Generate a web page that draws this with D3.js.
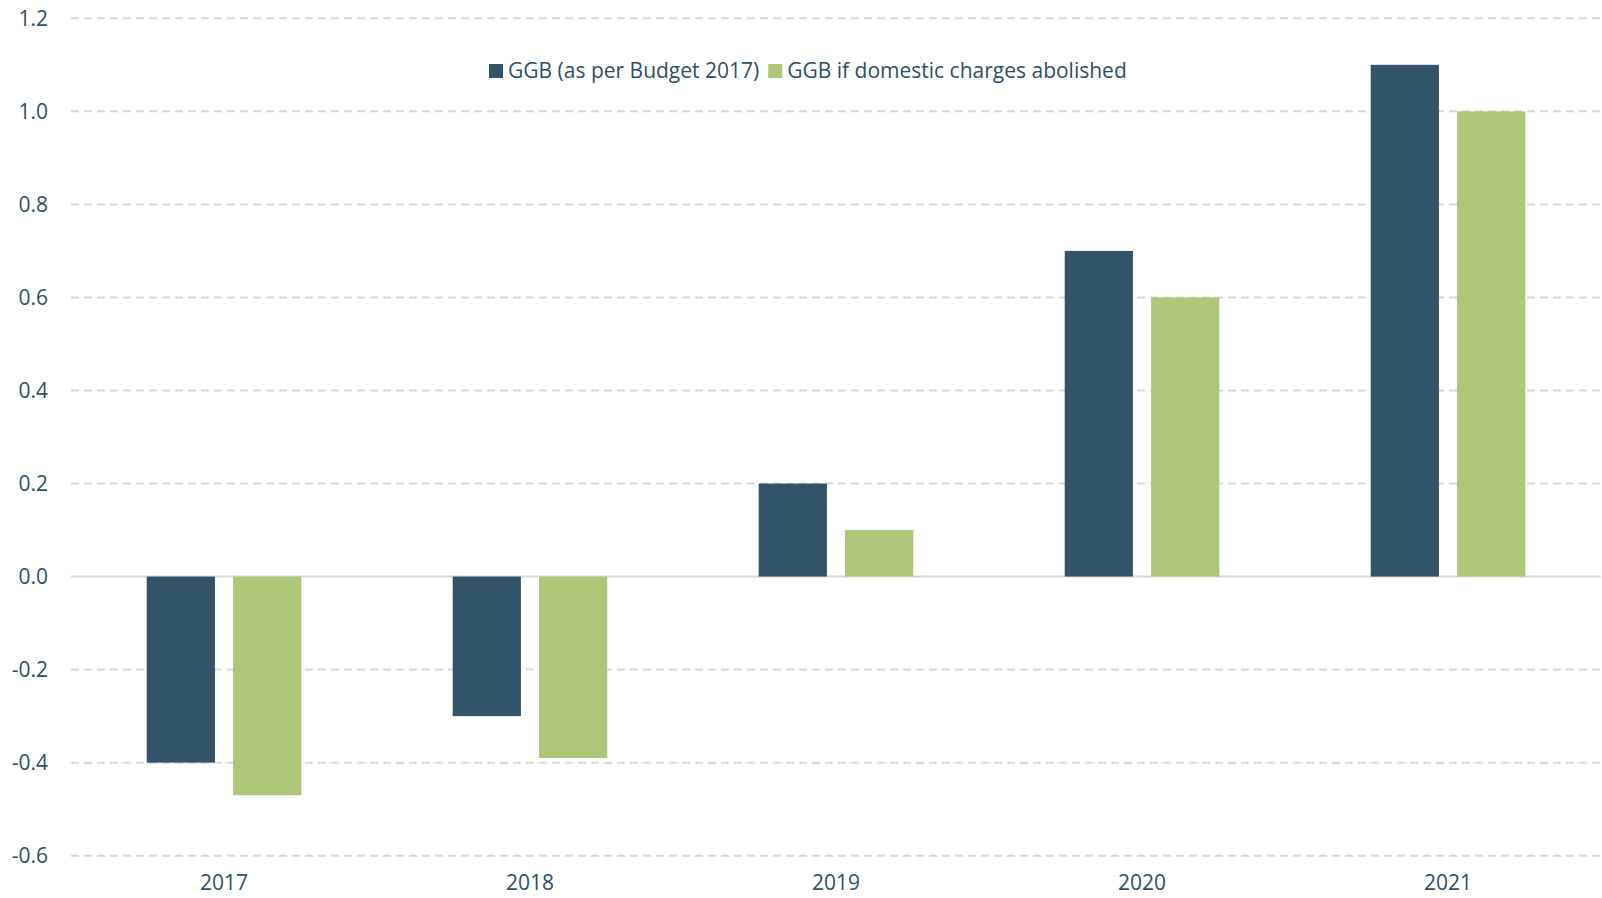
<!DOCTYPE html>
<html>
<head>
<meta charset="utf-8">
<script src="https://cdn.jsdelivr.net/npm/d3@7"></script>
<style>
  html, body { margin: 0; padding: 0; background: #fff; }
  svg { display: block; font-family: "Open Sans", "Liberation Sans", sans-serif; }
</style>
</head>
<body>
<svg id="chart" width="1602" height="898"></svg>
<script>
// ── Data ──────────────────────────────────────────────────────────────────────
const YEARS = ['2017', '2018', '2019', '2020', '2021'];
const GGB_BUDGET = [-0.4, -0.3, 0.2, 0.7, 1.1];
const GGB_ABOLISHED = [-0.47, -0.39, 0.1, 0.6, 1.0];
const Y_TICKS = [-0.6, -0.4, -0.2, 0.0, 0.2, 0.4, 0.6, 0.8, 1.0, 1.2];
const SERIES_NAMES = ['GGB (as per Budget 2017)', 'GGB if domestic charges abolished'];
const COLORS = ['#325468', '#adc677'];

const TEXT = '#2f5064';
const svg = d3.select('#chart');

// plot frame
const plotL = 71, plotR = 1601, plotT = 18.3, plotB = 855.7;

const x = d3.scaleBand().domain(YEARS).range([plotL, plotR]).paddingInner(0).paddingOuter(0);
const xInner = d3.scaleBand().domain([0, 1])
    .range([75.7, x.bandwidth() - 75.7]).paddingInner(0.21);
const y = d3.scaleLinear().domain([-0.6, 1.2]).range([plotB, plotT]);

// ── Grid ──────────────────────────────────────────────────────────────────────
const grid = svg.append('g');
grid.selectAll('line').data(Y_TICKS).join('line')
    .attr('x1', plotL).attr('x2', plotR)
    .attr('y1', d => y(d)).attr('y2', d => y(d))
    .attr('stroke', '#d9d9d9').attr('stroke-width', 2)
    .attr('stroke-dasharray', d => d === 0 ? null : '8,5');

// y labels
const yAxis = d3.axisLeft(y).tickValues(Y_TICKS).tickSize(0).tickPadding(0)
    .tickFormat(d => d3.format('.1f')(d).replace('−', '-'));
svg.append('g').attr('transform', 'translate(48,0)').call(yAxis)
    .call(g => g.select('.domain').remove())
    .selectAll('text')
    .attr('fill', TEXT).attr('font-size', 21).attr('font-family', '"Open Sans", sans-serif');

// ── Bars ──────────────────────────────────────────────────────────────────────
const bars = svg.append('g');
[GGB_BUDGET, GGB_ABOLISHED].forEach((vals, si) => {
    bars.selectAll(`.s${si}`).data(vals).join('rect')
        .attr('class', `s${si}`)
        .attr('x', (d, i) => x(YEARS[i]) + xInner(si))
        .attr('width', xInner.bandwidth())
        .attr('y', d => y(Math.max(0, d)))
        .attr('height', d => Math.abs(y(d) - y(0)))
        .attr('fill', COLORS[si]);
});

// x labels
const xAxis = d3.axisBottom(x).tickSize(0).tickPadding(0);
svg.append('g').attr('transform', 'translate(0,875)').call(xAxis)
    .call(g => g.select('.domain').remove())
    .selectAll('text')
    .attr('fill', TEXT).attr('font-size', 21).attr('font-family', '"Open Sans", sans-serif');

// ── Legend ────────────────────────────────────────────────────────────────────
const legend = svg.append('g').attr('transform', 'translate(489,71)');
let lx = 0;
SERIES_NAMES.forEach((name, i) => {
    const item = legend.append('g').attr('transform', `translate(${lx},0)`);
    item.append('rect').attr('x', 0).attr('y', -7).attr('width', 14).attr('height', 14).attr('fill', COLORS[i]);
    const t = item.append('text').attr('x', 19).attr('y', 0).attr('dy', '0.35em')
        .attr('fill', TEXT).attr('font-size', 21).text(name);
    lx += 19 + t.node().getComputedTextLength() + 9;
});
</script>
</body>
</html>
